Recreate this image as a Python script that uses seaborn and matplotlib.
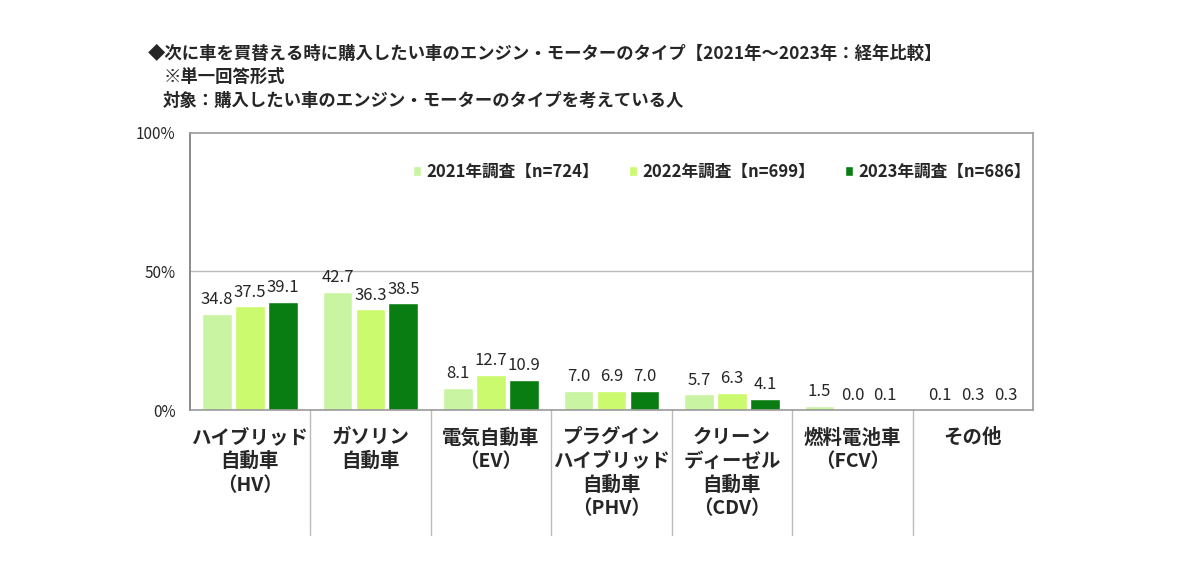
import matplotlib
matplotlib.use("Agg")
import matplotlib.pyplot as plt
import seaborn as sns
import pandas as pd

categories = ["ハイブリッド\n自動車\n（HV）", "ガソリン\n自動車", "電気自動車\n（EV）",
              "プラグイン\nハイブリッド\n自動車\n（PHV）", "クリーン\nディーゼル\n自動車\n（CDV）",
              "燃料電池車\n（FCV）", "その他"]
series = ["2021年調査【n=724】", "2022年調査【n=699】", "2023年調査【n=686】"]
v2021 = [34.8, 42.7, 8.1, 7.0, 5.7, 1.5, 0.1]
v2022 = [37.5, 36.3, 12.7, 6.9, 6.3, 0.0, 0.3]
v2023 = [39.1, 38.5, 10.9, 7.0, 4.1, 0.1, 0.3]
colors = ["#c9f5a3", "#ccfa6e", "#0a7d12"]

title_lines = ["◆次に車を買替える時に購入したい車のエンジン・モーターのタイプ【2021年～2023年：経年比較】",
               "※単一回答形式",
               "対象：購入したい車のエンジン・モーターのタイプを考えている人"]

rows = []
for s, vals in zip(series, [v2021, v2022, v2023]):
    for c, v in zip(categories, vals):
        rows.append({"cat": c, "series": s, "value": v})
df = pd.DataFrame(rows)

sns.set_style("white")
plt.rcParams["font.family"] = ["Noto Sans CJK JP", "DejaVu Sans"]

fig = plt.figure(figsize=(12, 5.69), dpi=100)
ax = fig.add_axes([0.158, 0.2794, 0.703, 0.4869])

sns.barplot(data=df, x="cat", y="value", hue="series", palette=colors,
            errorbar=None, width=0.82, gap=0.1, ax=ax, saturation=1)

for cont in ax.containers:
    ax.bar_label(cont, fmt="%.1f", padding=4, fontsize=12)

ax.set_ylim(0, 100)
ax.set_xlim(-0.5, len(categories) - 0.5)
ax.set_yticks([0, 50, 100])
ax.set_yticklabels(["0%", "50%", "100%"], fontsize=11)
ax.axhline(50, color="#bbbbbb", lw=1, zorder=0)
ax.set_xlabel("")
ax.set_ylabel("")
ax.tick_params(axis="x", length=0, pad=13, labelsize=14)
ax.tick_params(axis="y", length=0, pad=10)
for lab in ax.get_xticklabels():
    lab.set_fontweight("bold")
    lab.set_multialignment("center")
    lab.set_linespacing(1.3)

for side in ["top", "right", "left", "bottom"]:
    ax.spines[side].set_visible(True)
    ax.spines[side].set_color("#999999")
    ax.spines[side].set_linewidth(1.2)
ax.spines["left"].set_color("#777777")

trans = ax.get_xaxis_transform()
for k in range(1, len(categories)):
    ax.plot([k - 0.5, k - 0.5], [0, -0.45], transform=trans, color="#bbbbbb",
            lw=1, clip_on=False)

handles, labels = ax.get_legend_handles_labels()
ax.legend(handles, labels, loc="center right", bbox_to_anchor=(1.015, 0.86),
          ncol=3, frameon=False, handlelength=0.5, handleheight=0.5,
          handletextpad=0.3, columnspacing=1.8, prop={"weight": "bold", "size": 12})

ys = [0.905, 0.865, 0.823]
xs = [0.123, 0.136, 0.136]
for t, x, y in zip(title_lines, xs, ys):
    fig.text(x, y, t, fontsize=12.5, fontweight="bold", va="center", ha="left")

fig.savefig("out.png", dpi=100)
